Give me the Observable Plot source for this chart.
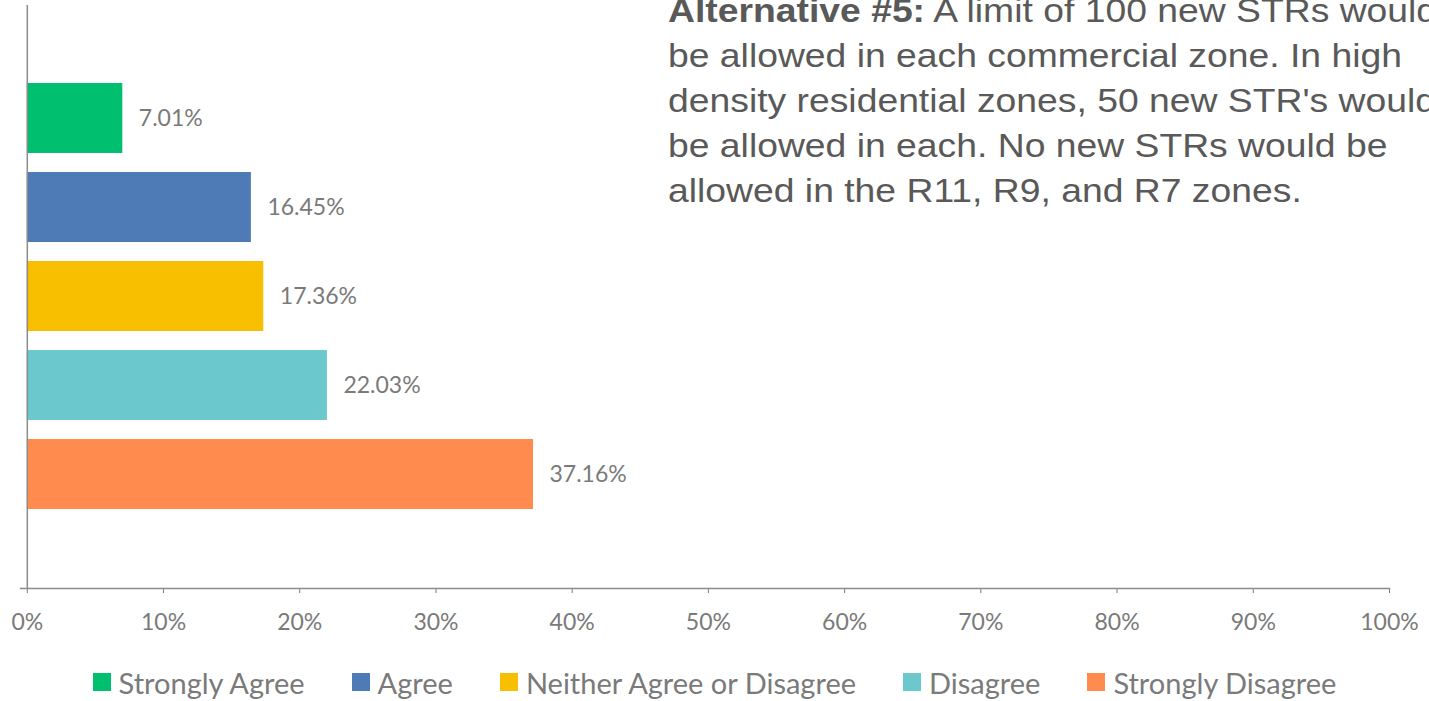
<!DOCTYPE html>
<html>
<head>
<meta charset="utf-8">
<script src="https://cdn.jsdelivr.net/npm/d3@7"></script>
<script src="https://cdn.jsdelivr.net/npm/@observablehq/plot@0.6"></script>
<style>
  html, body { margin: 0; padding: 0; background: #fff; overflow: hidden; width: 1429px; height: 701px; }
  #wrap { position: relative; width: 1429px; height: 701px; overflow: hidden; }
  #note {
    position: absolute; left: 668px; top: -12px; white-space: nowrap;
    font-family: "Liberation Sans", Arial, sans-serif; font-size: 34px; line-height: 45px; color: #595959;
    transform: scaleX(1.097); transform-origin: 0 0;
  }
  #note b { font-weight: bold; }
  #legend {
    position: absolute; left: 0; top: 662px; width: 1429px; height: 40px;
    display: flex; justify-content: center; align-items: center; gap: 47px;
    font-family: Lato, "Open Sans", sans-serif; font-size: 29px; color: #7a7a7a;
  }
  .item { display: flex; align-items: center; }
  .sw { width: 18px; height: 18px; margin-right: 8px; display: inline-block; }
</style>
</head>
<body>
<div id="wrap">
  <div id="chart"></div>
  <div id="note"><b>Alternative #5:</b> A limit of 100 new STRs would<br>be allowed in each commercial zone. In high<br>density residential zones, 50 new STR's would<br>be allowed in each. No new STRs would be<br>allowed in the R11, R9, and R7 zones.</div>
  <div id="legend"></div>
</div>
<script>
const categories = ["Strongly Agree", "Agree", "Neither Agree or Disagree", "Disagree", "Strongly Disagree"];
const values = [7.01, 16.45, 17.36, 22.03, 37.16];
const colors = ["#00BF6F", "#4E7AB5", "#F8BE00", "#6BC8CC", "#FF8B4F"];
const xTicks = [0, 10, 20, 30, 40, 50, 60, 70, 80, 90, 100];

const data = categories.map((c, i) => ({cat: c, value: values[i]}));

const chart = Plot.plot({
  width: 1429,
  height: 640,
  marginLeft: 20,
  marginRight: 40,
  marginTop: 5,
  marginBottom: 52,
  style: {fontFamily: "Lato, 'Open Sans', sans-serif", fontSize: "23px", color: "#7a7a7a", background: "#fff"},
  x: {domain: [-0.5, 100], ticks: xTicks, tickFormat: d => d + "%", tickSize: 5, tickPadding: 20, label: null},
  y: {domain: categories, paddingInner: 0.21, paddingOuter: 0.865, axis: null},
  color: {domain: categories, range: colors},
  marks: [
    Plot.barX(data, {x: "value", y: "cat", fill: "cat"}),
    Plot.text(data, {x: "value", y: "cat", text: d => d.value.toFixed(2) + "%", textAnchor: "start", dx: 16, fill: "#7a7a7a", fontSize: 23}),
    Plot.ruleX([0], {stroke: "#8c8c8c", strokeWidth: 1.5}),
    Plot.frame({anchor: "bottom", stroke: "#8c8c8c", strokeWidth: 1.5})
  ]
});
document.getElementById("chart").appendChild(chart);

const legend = document.getElementById("legend");
categories.forEach((c, i) => {
  const item = document.createElement("div");
  item.className = "item";
  const sw = document.createElement("span");
  sw.className = "sw";
  sw.style.background = colors[i];
  const t = document.createElement("span");
  t.textContent = c;
  item.appendChild(sw);
  item.appendChild(t);
  legend.appendChild(item);
});
</script>
</body>
</html>
